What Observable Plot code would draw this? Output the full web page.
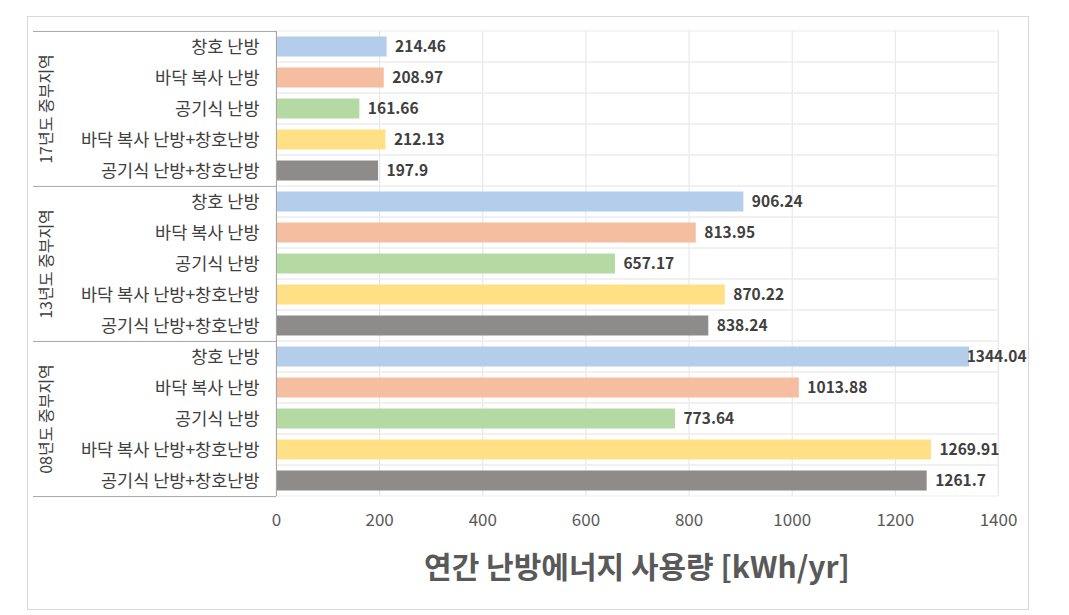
<!DOCTYPE html>
<html>
<head>
<meta charset="utf-8">
<script src="https://cdn.jsdelivr.net/npm/d3@7"></script>
<script src="https://cdn.jsdelivr.net/npm/@observablehq/plot@0.6"></script>
<style>
  html, body { margin: 0; padding: 0; background: #fff; }
  #wrap { position: relative; width: 1069px; height: 615px; overflow: hidden; font-family: 'Noto Sans CJK KR', sans-serif; }
  #frame { position: absolute; left: 27px; top: 16px; width: 1002px; height: 594px; border: 1px solid #d9d9d9; box-sizing: border-box; }
  #chart { position: absolute; left: 0; top: 0; }
  #xtitle { position: absolute; left: 276px; width: 722px; top: 543px; line-height: 44px; text-align: center; font-size: 30px; font-weight: bold; color: #595959; }
</style>
</head>
<body>
<div id="wrap">
  <div id="frame"></div>
  <div id="chart"></div>
  <div id="xtitle"></div>
</div>
<script>
const groups = ["17년도 중부지역", "13년도 중부지역", "08년도 중부지역"];
const methods = ["창호 난방", "바닥 복사 난방", "공기식 난방", "바닥 복사 난방+창호난방", "공기식 난방+창호난방"];
const values17 = [214.46, 208.97, 161.66, 212.13, 197.9];
const values13 = [906.24, 813.95, 657.17, 870.22, 838.24];
const values08 = [1344.04, 1013.88, 773.64, 1269.91, 1261.7];
const colors = ["#b3cdeb", "#f6bea0", "#b5d9a3", "#ffe084", "#8e8b8b"];
const xTicks = [0, 200, 400, 600, 800, 1000, 1200, 1400];
const xTitle = "연간 난방에너지 사용량 [kWh/yr]";

const seriesByGroup = [values17, values13, values08];
const rows = [];
groups.forEach((g, gi) => methods.forEach((m, mi) => rows.push({group: g, method: m, value: seriesByGroup[gi][mi]})));

const W = 1069, H = 615, mL = 276, mR = 71, mT = 30, mB = 118;
const plotW = W - mL - mR;
const step = (H - mT - mB) / rows.length;
const tableLeft = 33;

const firstRows = rows.filter(d => d.method === methods[0]);
const lastRow = rows.filter(d => d.group === groups[groups.length - 1] && d.method === methods[methods.length - 1]);
const fitsRight = d => d.value < 1300;

const chart = Plot.plot({
  width: W,
  height: H,
  marginLeft: mL,
  marginRight: mR,
  marginTop: mT,
  marginBottom: mB,
  style: {fontFamily: "'Noto Sans CJK KR', sans-serif", fontSize: "15px", background: "transparent"},
  x: {domain: [0, 1400], ticks: xTicks},
  y: {domain: methods, padding: 0},
  fy: {domain: groups, padding: 0},
  color: {domain: methods, range: colors},
  marks: [
    Plot.gridX(xTicks, {stroke: "#e4e4e4", strokeOpacity: 1}),
    Plot.barX(rows, {x1: 0, x2: 1400, y: "method", fy: "group", fill: "none", stroke: "#ececec"}),
    Plot.barX(rows, {x: "value", y: "method", fy: "group", fill: "method", insetTop: 5.5, insetBottom: 5.5}),
    Plot.text(rows.filter(fitsRight), {x: "value", y: "method", fy: "group", text: d => String(d.value), dx: 8, textAnchor: "start", fontWeight: "bold", fontSize: 15.5, fill: "#404040"}),
    Plot.text(rows.filter(d => !fitsRight(d)), {x: "value", y: "method", fy: "group", text: d => String(d.value), dx: -3, textAnchor: "start", fontWeight: "bold", fontSize: 15.5, fill: "#404040"}),
    Plot.ruleX([0], {stroke: "#a6a6a6"}),
    Plot.ruleY(firstRows, {y: "method", fy: "group", dy: -step / 2, insetLeft: -(mL - tableLeft), insetRight: plotW, stroke: "#a6a6a6"}),
    Plot.ruleY(lastRow, {y: "method", fy: "group", dy: step / 2, insetLeft: -(mL - tableLeft), insetRight: plotW, stroke: "#a6a6a6"}),
    Plot.axisY({tickSize: 0, tickPadding: 17, fontSize: 17.5, color: "#404040", label: null}),
    Plot.axisFy({anchor: "left", rotate: -90, tickSize: 0, tickPadding: mL - 46, textAnchor: "middle", fontSize: 16, color: "#404040", label: null}),
    Plot.axisX({ticks: xTicks, tickFormat: d => String(d), tickSize: 0, tickPadding: 17, fontSize: 17, color: "#595959", label: null})
  ]
});
document.getElementById("chart").appendChild(chart);
document.getElementById("xtitle").textContent = xTitle;
</script>
</body>
</html>
